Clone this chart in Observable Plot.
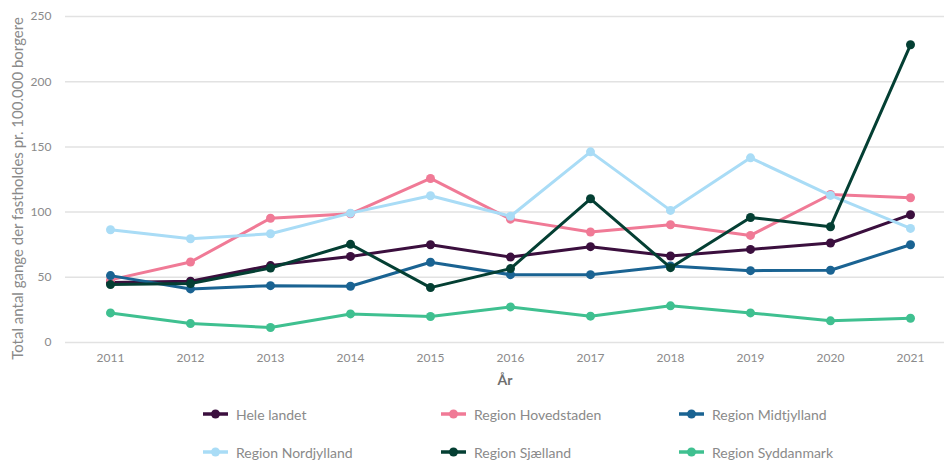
<!DOCTYPE html>
<html>
<head>
<meta charset="utf-8">
<script src="https://cdn.jsdelivr.net/npm/d3@7"></script>
<script src="https://cdn.jsdelivr.net/npm/@observablehq/plot@0.6"></script>
<style>
  body { margin: 0; background: #fff; font-family: Lato, "Open Sans", sans-serif; }
  #chart { position: relative; width: 944px; height: 462px; }
  .legend { position: absolute; left: 0; top: 0; width: 944px; }
  .item { position: absolute; display: flex; align-items: center; font-size: 14px; color: #8a8a8a; white-space: nowrap; }
  .item svg { margin-right: 8px; }
</style>
</head>
<body>
<div id="chart"></div>
<script>
const years = [2011, 2012, 2013, 2014, 2015, 2016, 2017, 2018, 2019, 2020, 2021];
const seriesNames = ["Hele landet", "Region Hovedstaden", "Region Midtjylland", "Region Nordjylland", "Region Sjælland", "Region Syddanmark"];
const seriesColors = ["#3b0f3e", "#f07a96", "#1a6392", "#a9dcf6", "#043f33", "#3fc090"];
const heleLandet   = [46, 47, 59, 66, 75, 65.5, 73.5, 66.3, 71.4, 76.3, 98];
const hovedstaden  = [48, 61.7, 95.3, 98.7, 125.8, 94.6, 84.7, 90.3, 82.1, 113.5, 111];
const midtjylland  = [51.3, 41.1, 43.6, 43.1, 61.5, 52, 52, 58.7, 55.1, 55.4, 75];
const nordjylland  = [86.5, 79.6, 83.4, 99.2, 112.5, 96.8, 146.2, 101.3, 141.6, 112.8, 87.5];
const sjaelland    = [44.4, 45.2, 57.1, 75.3, 42.1, 56.7, 110.2, 57.4, 95.9, 88.8, 228.3];
const syddanmark   = [22.7, 14.5, 11.5, 21.9, 19.9, 27.3, 20.2, 28.1, 22.7, 16.6, 18.6];
const yTicks = [0, 50, 100, 150, 200, 250];
const yLabel = "Total antal gange der fastholdes pr. 100.000 borgere";
const xLabel = "År";

const seriesValues = [heleLandet, hovedstaden, midtjylland, nordjylland, sjaelland, syddanmark];
const data = seriesNames.flatMap((s, i) => years.map((yr, j) => ({series: s, year: yr, value: seriesValues[i][j]})));

const perSeries = seriesNames.flatMap(s => {
  const d = data.filter(r => r.series === s);
  return [
    Plot.line(d, {x: "year", y: "value", stroke: "series", strokeWidth: 3}),
    Plot.dot(d, {x: "year", y: "value", fill: "series", r: 4.5})
  ];
});

const plot = Plot.plot({
  width: 944,
  height: 395,
  marginLeft: 65,
  marginRight: 0,
  marginTop: 16,
  marginBottom: 53,
  style: {fontFamily: "Lato, 'Open Sans', sans-serif", fontSize: "12px", color: "#8a8a8a"},
  x: {type: "point", domain: years, padding: 0, insetLeft: 40, insetRight: 30},
  y: {domain: [0, 250]},
  color: {domain: seriesNames, range: seriesColors},
  marks: [
    Plot.ruleY(yTicks, {stroke: "#e2e2e2", strokeWidth: 1.5}),
    Plot.axisY(yTicks, {tickSize: 0, tickPadding: 14, label: null, fontSize: 12}),
    Plot.axisX(years, {tickSize: 0, tickPadding: 11, tickFormat: d => String(d), label: null, fontSize: 12}),
    Plot.text([yLabel], {frameAnchor: "left", dx: -47, dy: 9, rotate: -90, textAnchor: "middle", fontSize: 15, fill: "#8a8a8a"}),
    Plot.text([xLabel], {frameAnchor: "bottom", dy: 42, fontSize: 14, fontWeight: "bold", fill: "#6e6e6e"}),
    ...perSeries
  ]
});

const chart = document.getElementById("chart");
chart.appendChild(plot);

const legend = document.createElement("div");
legend.className = "legend";
const colX = [203, 441, 679];
const rowY = [414, 452];
seriesNames.forEach((s, i) => {
  const item = document.createElement("div");
  item.className = "item";
  item.style.left = colX[i % 3] + "px";
  item.style.top = (rowY[Math.floor(i / 3)] - 9) + "px";
  item.style.height = "18px";
  item.innerHTML = `<svg width="25" height="12"><line x1="0" x2="25" y1="6" y2="6" stroke="${seriesColors[i]}" stroke-width="3.5"/><circle cx="12.5" cy="6" r="4.5" fill="${seriesColors[i]}"/></svg><span>${s}</span>`;
  legend.appendChild(item);
});
chart.appendChild(legend);
</script>
</body>
</html>
